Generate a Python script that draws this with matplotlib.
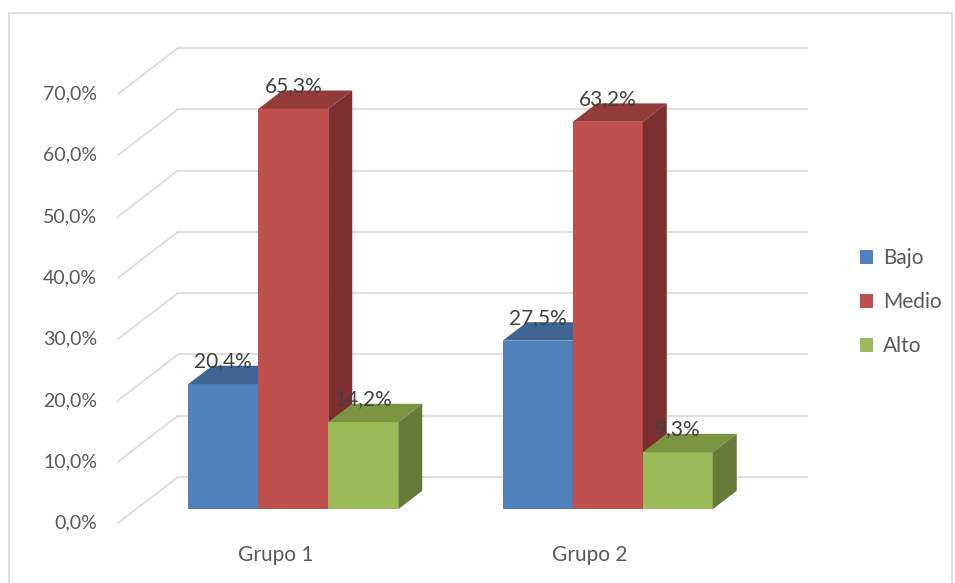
import matplotlib.pyplot as plt
from matplotlib.patches import Polygon, Rectangle, Patch

# data
groups = ["Grupo 1", "Grupo 2"]
series = ["Bajo", "Medio", "Alto"]
bajo = [20.4, 27.5]
medio = [65.3, 63.2]
alto = [14.2, 9.3]
ticks = [0, 10, 20, 30, 40, 50, 60, 70]

front_colors = ["#4F81BD", "#C0504D", "#9BBB59"]
top_colors = ["#3E6594", "#953C3A", "#7A9442"]
side_colors = ["#385D8A", "#7B2F2E", "#657B37"]

plt.rcParams['font.family'] = ['Lato', 'DejaVu Sans']

# layout (pixels of the 955x583 picture)
W, H = 955, 583
x_left = 118          # front-left edge of the plot
cat_px = 314.5        # pixels per category
y_zero = 523          # front baseline
pct_px = 6.13         # pixels per percent
DX = 60 / cat_px      # depth offset in category units
DY = 46 / pct_px      # depth offset in percent units
bar_w = 70 / cat_px
d_front, d_back = 0.3, 0.7

fig = plt.figure(figsize=(W / 100, H / 100), dpi=100)
ax = fig.add_axes([0, 0, 1, 1])
ax.set_xlim(-0.5 - x_left / cat_px, -0.5 + (W - x_left) / cat_px)
ax.set_ylim((y_zero - H) / pct_px, y_zero / pct_px)
ax.axis('off')

# chart border
fig.patches.append(Rectangle((9 / W, -0.01), (952 - 9) / W, 1 - 13 / H + 0.01,
	transform=fig.transFigure, fill=False, edgecolor="#D9D9D9", lw=1.2))

# walls grid
x0 = -0.5
x1 = len(groups) - 0.5
grid_c = "#D9D9D9"
for t in ticks:
	ax.plot([x0, x0 + DX], [t, t + DY], color=grid_c, lw=1.2, zorder=1)
	ax.plot([x0 + DX, x1 + DX], [t + DY, t + DY], color=grid_c, lw=1.2, zorder=1)
	ax.annotate(f"{t:.1f}%".replace(".", ","), (x0, t), xytext=(-15, 0),
		textcoords='offset points', ha='right', va='center', fontsize=14, color="#595959")

for i, g in enumerate(groups):
	ax.annotate(g, (i, 0), xytext=(0, -23), textcoords='offset points',
		ha='center', va='center', fontsize=15, color="#595959")

# bars
values = [bajo, medio, alto]
z = 2
for i in range(len(groups)):
	for k in range(len(series)):
		v = values[k][i]
		left = i + (k - 1.5) * bar_w + d_front * DX
		right = left + bar_w
		b = d_front * DY
		ddx = (d_back - d_front) * DX
		ddy = (d_back - d_front) * DY
		front = Polygon([(left, b), (right, b), (right, b + v), (left, b + v)],
			closed=True, facecolor=front_colors[k], edgecolor='none', zorder=z)
		top = Polygon([(left, b + v), (right, b + v), (right + ddx, b + v + ddy), (left + ddx, b + v + ddy)],
			closed=True, facecolor=top_colors[k], edgecolor='none', zorder=z)
		side = Polygon([(right, b), (right + ddx, b + ddy), (right + ddx, b + v + ddy), (right, b + v)],
			closed=True, facecolor=side_colors[k], edgecolor='none', zorder=z)
		ax.add_patch(front)
		ax.add_patch(top)
		ax.add_patch(side)
		z += 1
		ax.annotate(f"{v:.1f}%".replace(".", ","), ((left + right) / 2, b + v), xytext=(0, 16.5),
			textcoords='offset points', ha='center', va='center', fontsize=15, color="#404040", zorder=20)

# legend
handles = [Patch(facecolor=c, edgecolor='none') for c in front_colors]
fig.legend(handles, series, loc='center left', bbox_to_anchor=(841 / W, 1 - 302 / H),
	frameon=False, fontsize=15, labelcolor="#595959", handlelength=0.65, handleheight=0.65,
	handletextpad=0.45, labelspacing=1.15)

fig.savefig("out.png", dpi=100)
